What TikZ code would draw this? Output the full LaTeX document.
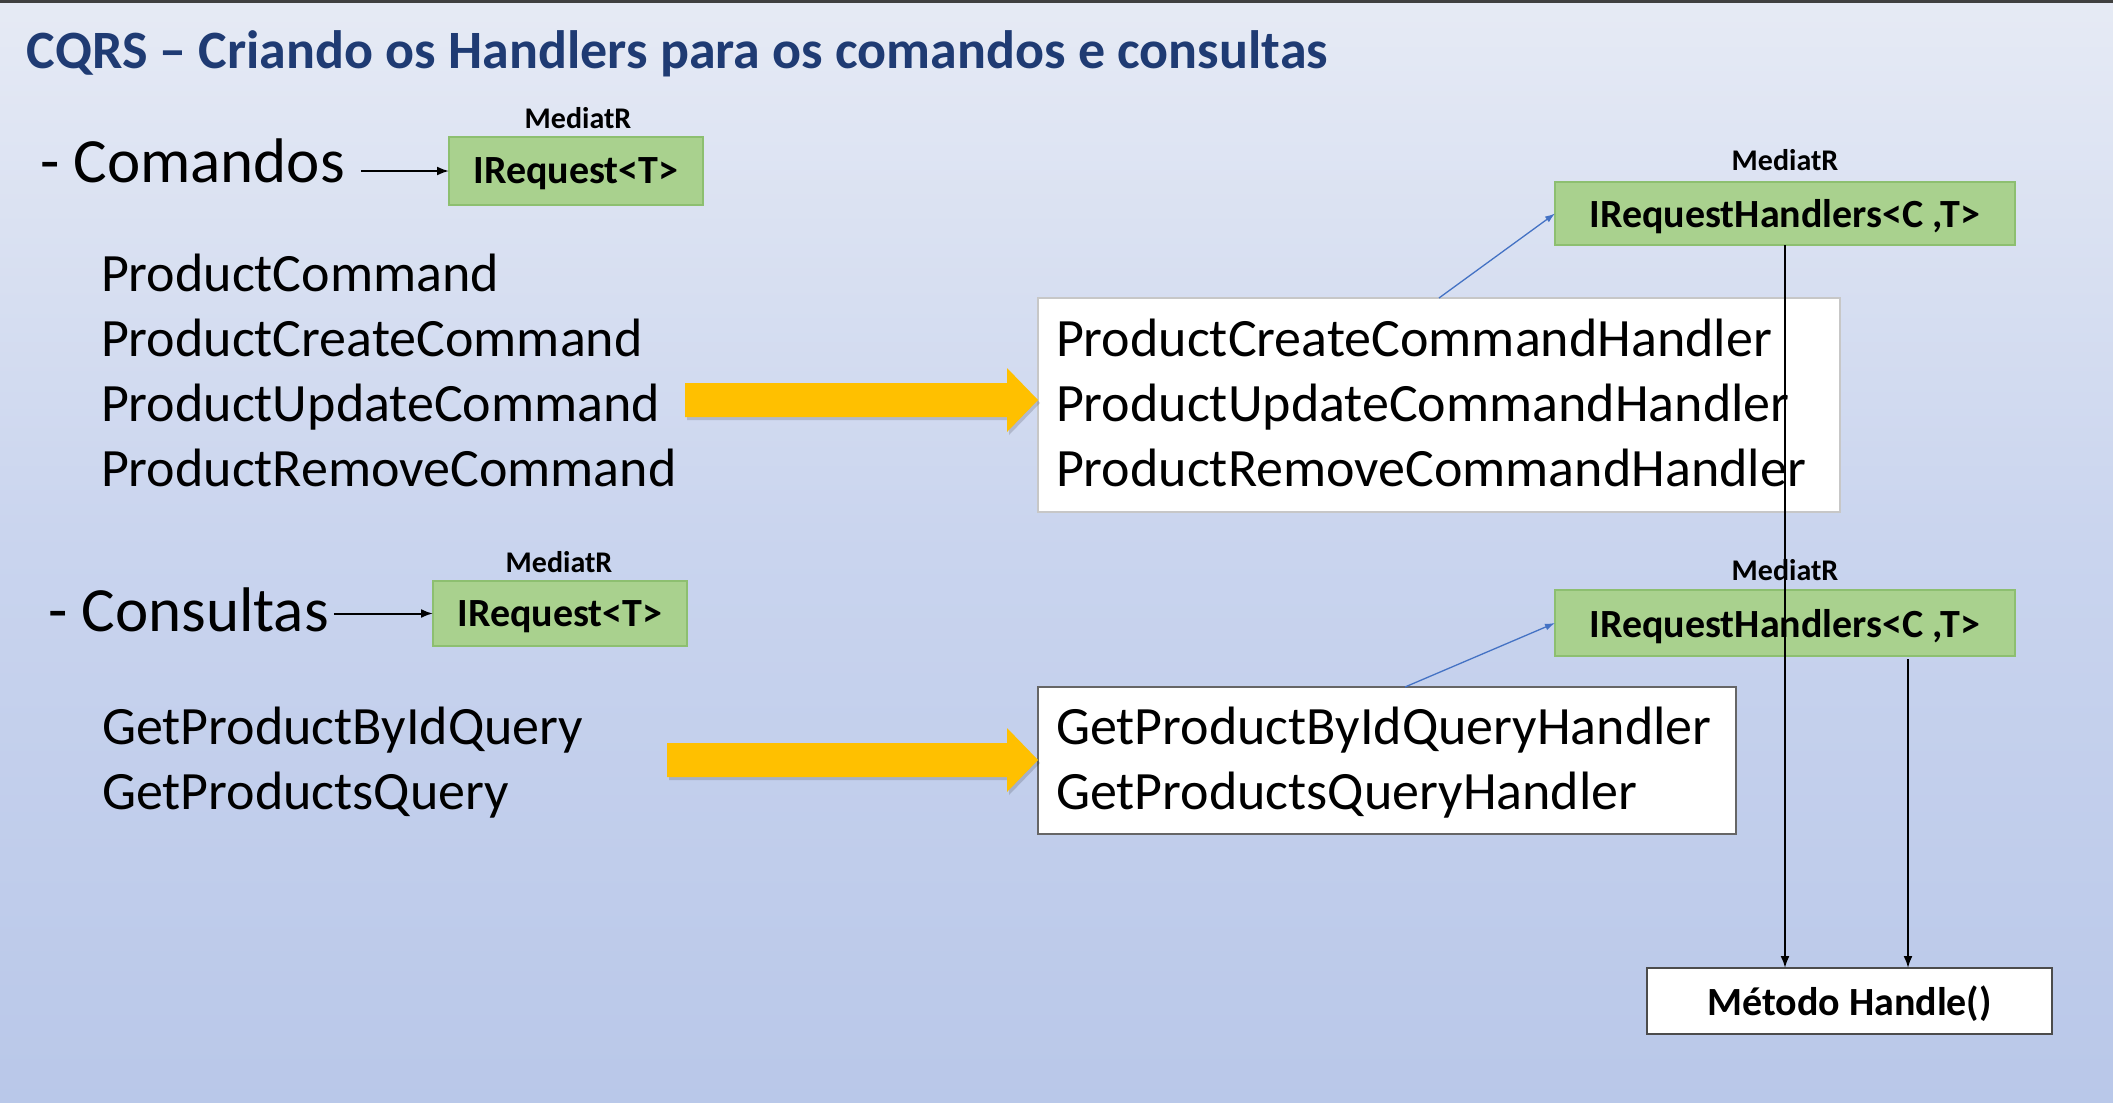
\documentclass[tikz,border=0pt]{standalone}
\usepackage{fontspec}
\setmainfont{Carlito}
\usetikzlibrary{arrows.meta,calc}
\definecolor{titleblue}{HTML}{1F3B73}
\definecolor{greenfill}{HTML}{A9D18E}
\definecolor{greenedge}{HTML}{8DBF70}
\definecolor{linkblue}{HTML}{4472C4}
\definecolor{yarrowcol}{HTML}{FFC000}
\definecolor{bgA}{HTML}{B6C5E8}
\definecolor{bgB}{HTML}{ADBEE5}
\definecolor{bgC}{HTML}{C9D4EE}
\definecolor{bgD}{HTML}{F5F6F8}
\pgfdeclareverticalshading{slidebg}{100bp}{color(0bp)=(bgA); color(6bp)=(bgB); color(50bp)=(bgC); color(88bp)=(bgD); color(100bp)=(bgD)}
\newcommand\yellowarrow[3]{% #1 style, #2 start coordinate, #3 tip coordinate
  \fill[#1] let \p1=(#2), \p2=(#3) in
    (\x1,\y1+17pt) -- (\x2-31pt,\y1+17pt) -- (\x2-31pt,\y1+32pt) -- (\x2,\y1)
    -- (\x2-31pt,\y1-32pt) -- (\x2-31pt,\y1-17pt) -- (\x1,\y1-17pt) -- cycle;}
\begin{document}
\begin{tikzpicture}[x=1pt,y=-1pt,
  every node/.style={inner sep=0pt, outer sep=0pt},
  titletext/.style={anchor=base west, font=\fontsize{54}{60}\selectfont\bfseries, text=titleblue},
  headtext/.style={anchor=base west, font=\fontsize{63}{70}\selectfont},
  listtext/.style={anchor=base west, font=\fontsize{54}{60}\selectfont},
  medlabel/.style={anchor=base, font=\fontsize{30}{34}\selectfont\bfseries},
  greenbox/.style={draw=greenedge, fill=greenfill, line width=1.2pt, text depth=0pt, font=\fontsize{40}{44}\selectfont\bfseries},
  whitebox/.style={fill=white, draw=#1, line width=1.5pt},
  blk/.style={draw=black, line width=2pt, -{Latex[length=12pt,width=9pt]}},
  blu/.style={draw=linkblue, line width=1.3pt, -{Latex[length=10pt,width=7pt]}},
]
\useasboundingbox (0,0) rectangle (2113,1103);
\shade[shading=slidebg] (0,0) rectangle (2113,1103);
\fill[black!75] (0,0) rectangle (2113,3);

% title
\node[titletext] (title) at (27,68) {CQRS – Criando os Handlers para os comandos e consultas};

% Comandos
\node[headtext] (com) at (40,182) {- Comandos};
\node[greenbox, minimum width=254pt, minimum height=68pt] (req1) at (576,171) {IRequest<T>};
\node[medlabel] (med1) at (578,128) {MediatR};
\draw[blk] ($(com.east |- req1.west)+(16,0)$) -- (req1.west);

\node[listtext] (pc)  at (101,291) {ProductCommand};
\node[listtext] (pcc) at (101,356) {ProductCreateCommand};
\node[listtext] (puc) at (101,421) {ProductUpdateCommand};
\node[listtext] (prc) at (101,486) {ProductRemoveCommand};

% command handlers box
\node[whitebox=black!22, minimum width=802pt, minimum height=214pt] (h1) at (1439,405) {};
\node[listtext] (h1a) at (1056,356) {ProductCreateCommandHandler};
\node[listtext] (h1b) at (1056,421) {ProductUpdateCommandHandler};
\node[listtext] (h1c) at (1056,486) {ProductRemoveCommandHandler};

\coordinate (a1s) at (685,400);
\coordinate (a1e) at (h1.west |- a1s);
\yellowarrow{black, opacity=0.15}{$(a1s)+(2,3)$}{$(a1e)+(2,3)$}
\yellowarrow{yarrowcol}{a1s}{a1e}

% MediatR handlers (commands)
\node[greenbox, minimum width=460pt, minimum height=63pt] (rh1) at (1785,213.5) {IRequestHandlers<C ,T>};
\node[medlabel] (med3) at (1785,170) {MediatR};
\draw[blu] (h1.north) -- (rh1.west);

% Consultas
\node[headtext] (con) at (48,631) {- Consultas};
\node[greenbox, minimum width=254pt, minimum height=65pt] (req2) at (560,613.5) {IRequest<T>};
\node[medlabel] (med2) at (559,572) {MediatR};
\draw[blk] ($(con.east |- req2.west)+(5,0)$) -- (req2.west);

\node[listtext] (gq1) at (102,744) {GetProductByIdQuery};
\node[listtext] (gq2) at (102,809) {GetProductsQuery};

% query handlers box
\node[whitebox=black!60, minimum width=698pt, minimum height=147pt] (h2) at (1387,760.5) {};
\node[listtext] (h2a) at (1056,744) {GetProductByIdQueryHandler};
\node[listtext] (h2b) at (1056,809) {GetProductsQueryHandler};

\coordinate (a2s) at (667,760);
\coordinate (a2e) at (h2.west |- a2s);
\yellowarrow{black, opacity=0.15}{$(a2s)+(2,3)$}{$(a2e)+(2,3)$}
\yellowarrow{yarrowcol}{a2s}{a2e}

% MediatR handlers (queries)
\node[greenbox, minimum width=460pt, minimum height=66pt] (rh2) at (1785,623) {IRequestHandlers<C ,T>};
\node[medlabel] (med4) at (1785,580) {MediatR};
\draw[blu] ($(h2.north)+(18,0)$) -- (rh2.west);

% Handle method
\node[whitebox=black!70, minimum width=405pt, minimum height=66pt, text depth=0pt, font=\fontsize{40}{44}\selectfont\bfseries] (mh) at (1849.5,1001) {Método Handle()};

\coordinate (l2s) at ($(rh2.south)+(123,3)$);
\draw[blk] (l2s) -- (l2s |- mh.north);
\draw[blk] (rh1.south) -- (rh1.south |- mh.north);
\end{tikzpicture}
\end{document}
